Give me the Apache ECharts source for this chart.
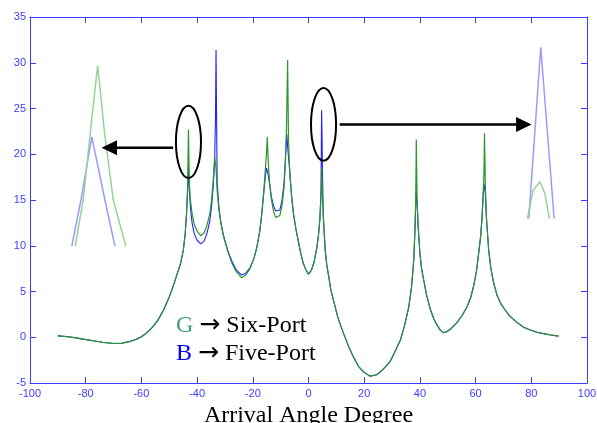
<!DOCTYPE html>
<html lang="en">
<head>
    <meta charset="UTF-8">
    <title>Arrival Angle Degree</title>
    <style>
        html, body { margin: 0; padding: 0; background: #fff; }
    </style>
</head>
<body>
<div id="main" style="width: 597px;height:423px;"></div>
<script src="https://cdn.jsdelivr.net/npm/echarts@6/dist/echarts.min.js"></script>
<script>
    // tick labels
    var xTicks = [-100, -80, -60, -40, -20, 0, 20, 40, 60, 80, 100];
    var yTicks = [-5, 0, 5, 10, 15, 20, 25, 30, 35];

    // G -> Six-Port  [angle, value]
    var sixPort = [
        [-90, 0.15], [-86, 0.05], [-82, -0.15], [-78, -0.35], [-74, -0.55], [-70, -0.68], [-67, -0.65],
        [-64, -0.45], [-62, -0.25], [-60, 0.05], [-58, 0.5], [-56, 1.1], [-54, 1.9], [-52, 3.0], [-50, 4.4],
        [-48.8, 5.4], [-47.5, 6.6], [-46, 8.0], [-45, 9.4], [-44.3, 11.2], [-43.8, 13.5], [-43.4, 16.5],
        [-43.1, 22.7], [-42.8, 17], [-42.4, 15], [-41.8, 13.5], [-41, 12.3], [-40, 11.6], [-38.7, 11.1],
        [-37.5, 11.4], [-36.5, 12.2], [-35.5, 13.4], [-34.8, 15], [-34.2, 17.2], [-33.7, 19.7], [-33.2, 18.5],
        [-32.8, 16], [-32.2, 14], [-31.5, 12.5], [-30.5, 11], [-29, 9.4], [-27.5, 8.1], [-26, 7.2], [-24, 6.5],
        [-22.5, 6.8], [-21, 7.5], [-19.5, 8.7], [-18.5, 9.9], [-17.5, 11.6], [-16.8, 13.5], [-16.2, 15.5],
        [-15.6, 17.9], [-15.1, 20], [-14.8, 21.9], [-14.5, 19.5], [-14, 17], [-13.3, 15], [-12.5, 13.7],
        [-11.8, 13.1], [-11.1, 12.9], [-10.3, 13.3], [-9.5, 14.4], [-8.8, 16.3], [-8.3, 19], [-7.9, 23],
        [-7.5, 30.3], [-7.2, 22], [-6.9, 19], [-6.6, 17.5], [-6, 15.2], [-5.4, 13.5], [-4.5, 11.8],
        [-3.6, 10.4], [-2.8, 9.2], [-1.9, 8.1], [-1, 7.4], [0, 6.9], [1, 7.3], [2, 8.2], [3, 9.8],
        [3.6, 11.2], [4.1, 13], [4.5, 15.5], [4.7, 18.5], [5.0, 15.5], [5.4, 12.5], [6, 9.5], [6.6, 7.8],
        [7.3, 6.6], [8, 5.2], [9, 4.0], [10.5, 2.2], [12.6, 0.4], [14.4, -1.0], [16.2, -2.2], [18, -3.2],
        [19.8, -3.8], [22.1, -4.25], [24.5, -4.1], [26.5, -3.6], [28, -3.1], [29.4, -2.6], [31, -1.6],
        [33, -0.3], [34.5, 1.3], [36, 3.3], [37, 5.5], [37.8, 8.5], [38.2, 11.5], [38.5, 15], [38.7, 21.6],
        [39, 15], [39.4, 12], [40, 9.2], [40.6, 7.5], [41.4, 6.2], [42.4, 4.6], [43.8, 3.0], [45, 2.0],
        [46.2, 1.3], [47.4, 0.75], [48.4, 0.5], [49.6, 0.6], [51, 0.9], [53.3, 1.6], [55.2, 2.4],
        [56.9, 3.3], [58.3, 4.4], [59.3, 5.6], [60.3, 7.2], [61.1, 9.2], [61.8, 11], [62.3, 13],
        [62.7, 15.5], [63.0, 18], [63.2, 22.3], [63.5, 16.5], [63.9, 13], [64.7, 9.5], [65.5, 7.5],
        [66.5, 5.9], [67.7, 4.6], [69, 3.7], [70.1, 3.2], [72, 2.4], [74.9, 1.6], [77.3, 1.1], [79.6, 0.8],
        [82, 0.55], [84.4, 0.4], [87, 0.25], [89.8, 0.12]
    ];

    // B -> Five-Port
    var fivePort = [
        [-90, 0.15], [-86, 0.05], [-82, -0.15], [-78, -0.35], [-74, -0.55], [-70, -0.68], [-67, -0.65],
        [-64, -0.45], [-62, -0.25], [-60, 0.05], [-58, 0.5], [-56, 1.1], [-54, 1.9], [-52, 3.0], [-50, 4.4],
        [-48.8, 5.4], [-47.5, 6.6], [-46, 8.0], [-45, 9.4], [-44.3, 11.2], [-43.8, 13.5], [-43.4, 16],
        [-43.1, 18.8], [-42.8, 16.2], [-42.4, 14.2], [-41.8, 12.5], [-41, 11.3], [-40, 10.6], [-38.7, 10.2],
        [-37.5, 10.5], [-36.5, 11.3], [-35.5, 12.6], [-34.8, 14.3], [-34.2, 16.5], [-33.7, 19.3], [-33.4, 24],
        [-33.2, 31.4], [-33.0, 24], [-32.8, 17], [-32.2, 14.3], [-31.5, 12.6], [-30.5, 11.1], [-29, 9.5],
        [-27.5, 8.3], [-26, 7.4], [-24, 6.8], [-22.5, 7.0], [-21, 7.6], [-19.5, 8.7], [-18.5, 9.9],
        [-17.5, 11.6], [-16.8, 13.4], [-16.2, 15.3], [-15.6, 17.3], [-15.1, 18.5], [-14.8, 18.5],
        [-14.5, 17.8], [-14, 16.8], [-13.3, 15.3], [-12.5, 14.3], [-11.8, 13.8], [-11.1, 13.6],
        [-10.3, 13.9], [-9.5, 15], [-8.8, 16.8], [-8.3, 19.5], [-7.8, 22.2], [-7.4, 20.5], [-7.1, 19.5],
        [-6.9, 18.8], [-6.6, 17.5], [-6, 15.2], [-5.4, 13.5], [-4.5, 11.8], [-3.6, 10.4], [-2.8, 9.2],
        [-1.9, 8.1], [-1, 7.4], [0, 6.9], [1, 7.3], [2, 8.2], [3, 9.8], [3.6, 11.2], [4.1, 13], [4.5, 16],
        [4.7, 24.8], [4.85, 22.4], [5.0, 18.3], [5.3, 13.5], [6, 9.5], [6.6, 7.8], [7.3, 6.6], [8, 5.2],
        [9, 4.0], [10.5, 2.2], [12.6, 0.4], [14.4, -1.0], [16.2, -2.2], [18, -3.2], [19.8, -3.8],
        [22.1, -4.25], [24.5, -4.1], [26.5, -3.6], [28, -3.1], [29.4, -2.6], [31, -1.6], [33, -0.3],
        [34.5, 1.3], [36, 3.3], [37, 5.5], [37.8, 8.5], [38.2, 11.5], [38.5, 14.5], [38.7, 16], [39, 14.5],
        [39.4, 12], [40, 9.2], [40.6, 7.5], [41.4, 6.2], [42.4, 4.6], [43.8, 3.0], [45, 2.0], [46.2, 1.3],
        [47.4, 0.75], [48.4, 0.5], [49.6, 0.6], [51, 0.9], [53.3, 1.6], [55.2, 2.4], [56.9, 3.3],
        [58.3, 4.4], [59.3, 5.6], [60.3, 7.2], [61.1, 9.2], [61.8, 11], [62.3, 13], [62.7, 15.3],
        [63.0, 16.8], [63.2, 17], [63.5, 15.7], [63.9, 13], [64.7, 9.5], [65.5, 7.5], [66.5, 5.9],
        [67.7, 4.6], [69, 3.7], [70.1, 3.2], [72, 2.4], [74.9, 1.6], [77.3, 1.1], [79.6, 0.8], [82, 0.55],
        [84.4, 0.4], [87, 0.25], [89.8, 0.12]
    ];

    // zoomed views of the peaks near -43 and 5, drawn in the empty corners
    var leftZoomSix = [[-83.8, 9.95], [-80.9, 15.0], [-77.6, 24.5], [-75.7, 29.7], [-73.3, 22.5], [-70.1, 15.0], [-65.6, 9.95]];
    var leftZoomFive = [[-85.0, 9.95], [-81.7, 15.0], [-77.8, 21.9], [-73.1, 15.0], [-69.5, 9.95]];
    var rightZoomSix = [[78.6, 12.97], [80.7, 16.1], [83.1, 17.0], [84.9, 15.7], [86.5, 12.97]];
    var rightZoomFive = [[79.1, 12.97], [83.4, 31.7], [88.2, 12.97]];

    // ring centres [angle, value] and radii [deg, value]
    var rings = [
        {c: [-43.1, 21.35], r: [4.5, 3.95]},
        {c: [5.4, 23.26], r: [4.5, 3.98]}
    ];
    // arrows: from, to (tip)
    var arrows = [
        {from: [-48.6, 20.7], to: [-74.3, 20.7]},
        {from: [11.2, 23.25], to: [80.1, 23.25]}
    ];

    var axisBlue = '#3c3cff';
    var green = '#2b962b';
    var blue = '#2222ff';

    function axisX(pos, showLabel) {
        return {
            type: 'value', position: pos, min: -100, max: 100, interval: 20,
            axisLine: {show: true, onZero: false, lineStyle: {color: axisBlue, width: 1}},
            axisTick: {show: true, inside: true, length: 6, lineStyle: {color: axisBlue}},
            axisLabel: {
                show: showLabel, color: axisBlue, fontSize: 11, fontFamily: 'Liberation Sans', margin: 5,
                formatter: function (v) { return xTicks.indexOf(v) >= 0 ? String(v) : ''; }
            },
            splitLine: {show: false}
        };
    }
    function axisY(pos, showLabel) {
        return {
            type: 'value', position: pos, min: -5, max: 35, interval: 5,
            axisLine: {show: true, onZero: false, lineStyle: {color: axisBlue, width: 1}},
            axisTick: {show: true, inside: true, length: 6, lineStyle: {color: axisBlue}},
            axisLabel: {
                show: showLabel, color: axisBlue, fontSize: 11, fontFamily: 'Liberation Sans', margin: 4,
                formatter: function (v) { return yTicks.indexOf(v) >= 0 ? String(v) : ''; }
            },
            splitLine: {show: false}
        };
    }

    function lineSerie(data, color, width) {
        return {
            type: 'line', data: data, showSymbol: false, symbol: 'none', smooth: false,
            lineStyle: {color: color, width: width}, silent: true, z: 2
        };
    }

    var chart = echarts.init(document.getElementById('main'), null, {renderer: 'canvas'});
    var xMain = axisX('bottom', true);
    xMain.name = 'Arrival Angle Degree';
    xMain.nameLocation = 'middle';
    xMain.nameGap = 16;
    xMain.nameTextStyle = {fontFamily: 'Liberation Serif', fontSize: 24, color: '#000', verticalAlign: 'top'};

    chart.setOption({
        animation: false,
        backgroundColor: '#fff',
        grid: {left: 30, right: 10, top: 17, bottom: 40, containLabel: false, outerBoundsMode: 'none'},
        xAxis: [xMain, axisX('top', false)],
        yAxis: [axisY('left', true), axisY('right', false)],
        series: [
            lineSerie(leftZoomFive, '#9a9aff', 1.5),
            lineSerie(leftZoomSix, '#96d296', 1.5),
            lineSerie(rightZoomFive, '#9a9aff', 1.5),
            lineSerie(rightZoomSix, '#96d296', 1.5),
            lineSerie(fivePort, blue, 1.1),
            lineSerie(sixPort, green, 1.2)
        ]
    });

    // annotations placed from data coordinates
    function px(p) { return chart.convertToPixel({xAxisIndex: 0, yAxisIndex: 0}, p); }
    var graphics = [];
    rings.forEach(function (ring) {
        var c = px(ring.c);
        var e = px([ring.c[0] + ring.r[0], ring.c[1] + ring.r[1]]);
        graphics.push({
            type: 'ellipse',
            shape: {cx: c[0], cy: c[1], rx: Math.abs(e[0] - c[0]), ry: Math.abs(e[1] - c[1])},
            style: {fill: 'none', stroke: '#000', lineWidth: 2}, z: 10
        });
    });
    arrows.forEach(function (a) {
        var f = px(a.from), t = px(a.to);
        var dir = t[0] > f[0] ? 1 : -1;
        var base = t[0] - dir * 15.5;
        graphics.push({
            type: 'line', shape: {x1: f[0], y1: f[1], x2: base, y2: t[1]},
            style: {stroke: '#000', lineWidth: 2.5}, z: 10
        });
        graphics.push({
            type: 'polygon', shape: {points: [[t[0], t[1]], [base, t[1] - 7.5], [base, t[1] + 7.5]]},
            style: {fill: '#000'}, z: 10
        });
    });
    var legendRich = {
        g: {fill: '#3f9f6f', font: '24px "Liberation Serif"'},
        b: {fill: '#0000ff', font: '24px "Liberation Serif"'},
        a: {fill: '#000', font: '25px "DejaVu Sans"'},
        t: {fill: '#000', font: '24px "Liberation Serif"'}
    };
    graphics.push({
        type: 'text', left: 176, top: 313, z: 10,
        style: {text: '{g|G}{t| }{a|\u2192}{t| Six-Port}', rich: legendRich}
    });
    graphics.push({
        type: 'text', left: 176, top: 341, z: 10,
        style: {text: '{b|B}{t| }{a|\u2192}{t| Five-Port}', rich: legendRich}
    });
    chart.setOption({graphic: graphics});
</script>
</body>
</html>
